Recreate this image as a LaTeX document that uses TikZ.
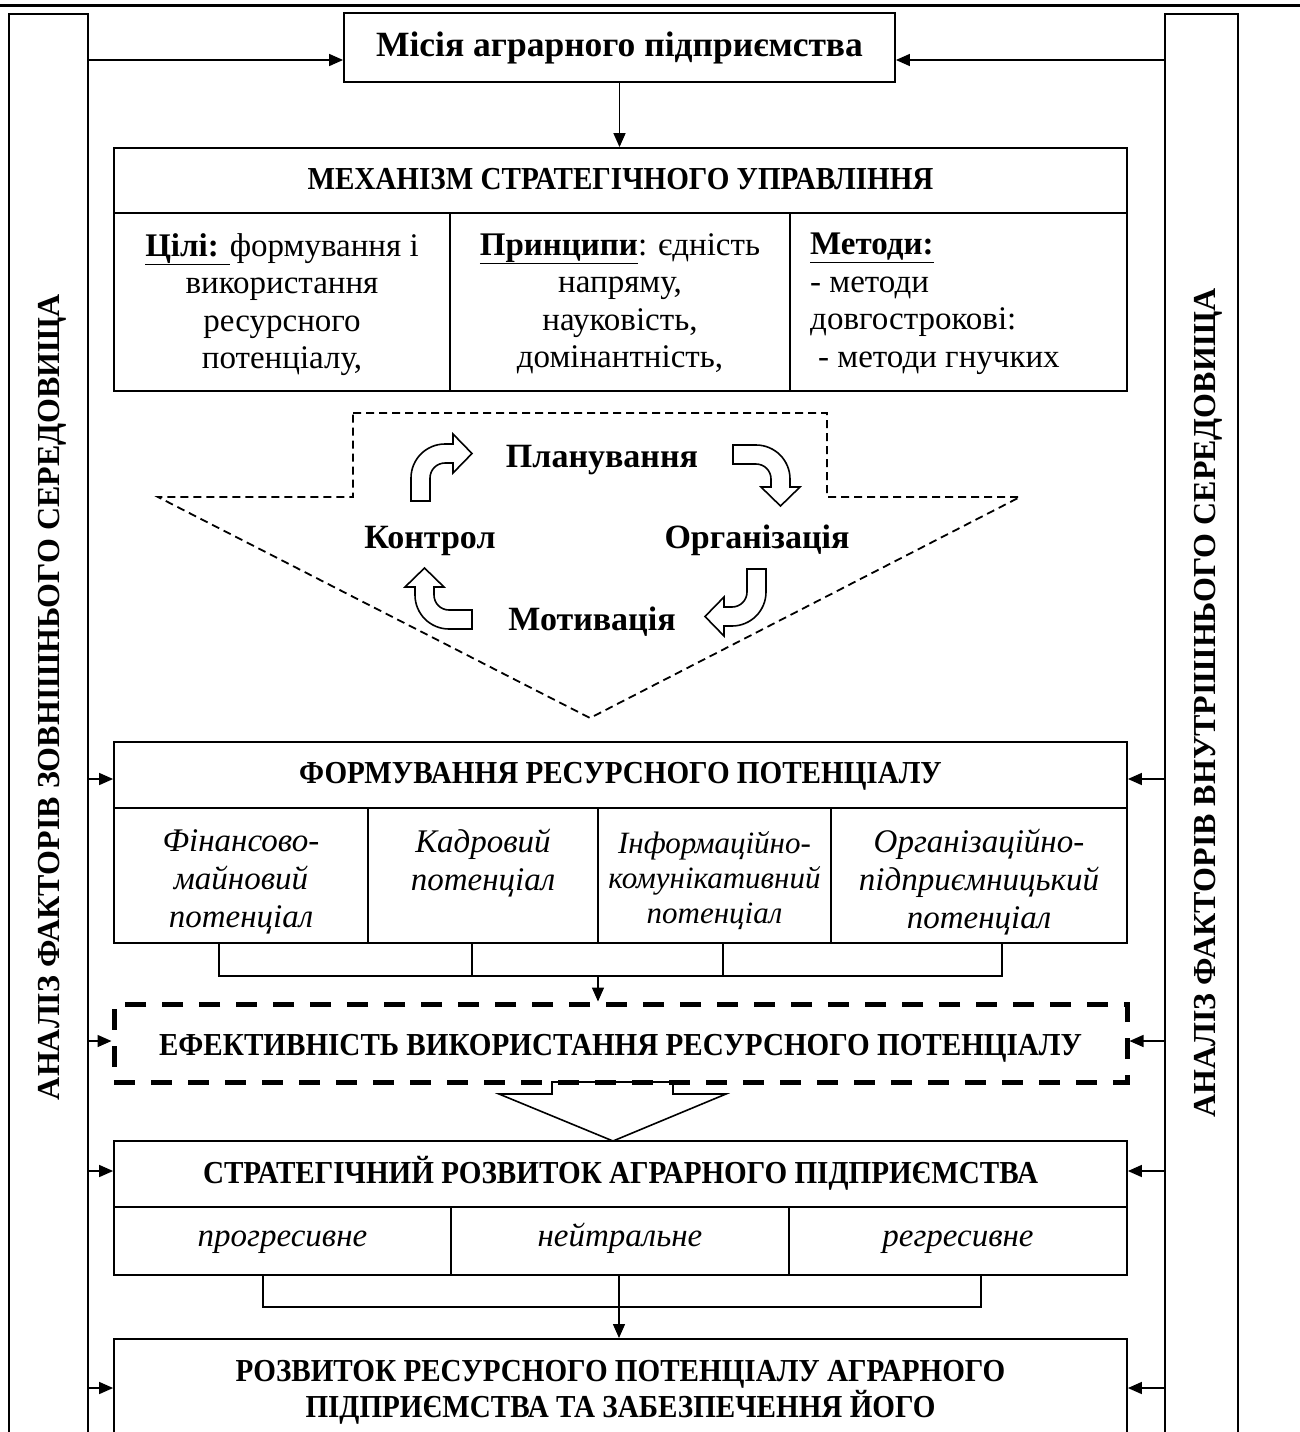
\documentclass[tikz,border=0pt]{standalone}
\usepackage{fontspec}
\setmainfont{Liberation Serif}
\newfontfamily\capsfont{Liberation Serif}[FakeStretch=0.91]
\usetikzlibrary{arrows.meta,calc}
\tikzset{
  boxst/.style={draw, line width=1.8pt, inner sep=0pt, rectangle},
  panelst/.style={draw, line width=1.6pt, inner sep=0pt, rectangle},
  divst/.style={line width=1.6pt},
  conn/.style={line width=1.5pt},
  arr/.style={line width=1.5pt, -{Triangle[length=14pt,width=12pt]}},
  hdrst/.style={font=\capsfont\bfseries\fontsize{32}{36}\selectfont, inner sep=0pt},
  sidest/.style={font=\bfseries\fontsize{32}{36}\selectfont, inner sep=0pt},
  bodyst/.style={font=\fontsize{33}{37.5}\selectfont, inner sep=0pt},
  itst/.style={font=\itshape\fontsize{33}{38}\selectfont, inner sep=0pt, align=center, anchor=north},
  lblst/.style={font=\bfseries\fontsize{34}{38}\selectfont, inner sep=0pt, anchor=base},
  thindash/.style={line width=1.8pt, dash pattern=on 8pt off 5pt},
  thickdash/.style={draw, line width=5pt, dash pattern=on 21pt off 16pt, inner sep=0pt, rectangle},
  blockarr/.style={line width=1.6pt, fill=white, line join=miter},
  pics/bentarrow/.style={code={
    \draw[blockarr] (-34,23) -- (-34,0) .. controls (-34,-18.78) and (-18.78,-34) .. (0,-34)
      -- (8,-34) -- (8,-44) -- (27,-24.5) -- (8,-5) -- (8,-15) -- (0,-15)
      .. controls (-8.28,-15) and (-15,-8.28) .. (-15,0) -- (-15,23) -- cycle;
  }},
}
\begin{document}
\begin{tikzpicture}[x=1pt,y=-1pt]
\path[use as bounding box, fill=white] (0,0) rectangle (1300,1432);
\clip (0,0) rectangle (1300,1432);

% top rule
\draw[line width=3pt] (0,5) -- (1300,5);

% side panels
\node[panelst, minimum width=79pt, minimum height=1500pt, anchor=north west] (lpanel) at (8,13) {};
\node[panelst, minimum width=73pt, minimum height=1500pt, anchor=north west] (rpanel) at (1164,13) {};
\node[sidest, rotate=90, anchor=base] (lside) at (59,697) {АНАЛІЗ ФАКТОРІВ ЗОВНІШНЬОГО СЕРЕДОВИЩА};
\node[sidest, rotate=90, anchor=base] (rside) at (1215,703) {АНАЛІЗ ФАКТОРІВ ВНУТРІШНЬОГО СЕРЕДОВИЩА};

% mission
\node[boxst, minimum width=551pt, minimum height=69pt, font=\bfseries\fontsize{35.5}{40}\selectfont] (mis) at (619.5,47.5) {Місія аграрного підприємства};
\coordinate (misL) at ($(mis.west)+(0,12.5)$);
\coordinate (misR) at ($(mis.east)+(0,12.5)$);
\draw[arr] (lpanel.east |- misL) -- (misL);
\draw[arr] (rpanel.west |- misR) -- (misR);

% mechanism
\node[boxst, minimum width=1013pt, minimum height=243pt] (mech) at (620.5,269.5) {};
\draw[arr] (mis.south) -- (mis.south |- mech.north);
\draw[divst] (114,213) -- (1127,213);
\draw[divst] (450,213) -- (450,391);
\draw[divst] (790,213) -- (790,391);
\node[hdrst, anchor=base] (mecht) at (620.5,189) {МЕХАНІЗМ СТРАТЕГІЧНОГО УПРАВЛІННЯ};
\node[bodyst, align=center, anchor=north] (goals) at (282,233) {\underline{\textbf{Цілі: }}формування і\\використання\\ресурсного\\потенціалу,};
\node[bodyst, align=center, anchor=north] (princ) at (620,233) {\underline{\textbf{Принципи}}: єдність\\напряму,\\науковість,\\домінантність,};
\node[bodyst, align=left, anchor=north west] (meth) at (810,233) {\underline{\textbf{Методи:}}\\- методи\\довгострокові:\\\hspace*{8pt}- методи гнучких};

% dashed management-cycle arrow
\draw[thindash] (353,413) -- (827,413) -- (827,497) -- (1020,497) -- (590,718) -- (158,497) -- (353,497) -- cycle;
\node[lblst] (plan) at (602,467) {Планування};
\node[lblst] (ctrl) at (430,548) {Контрол};
\node[lblst] (orgn) at (757,548) {Організація};
\node[lblst] (motiv) at (592,630) {Мотивація};
\pic at (445,478) {bentarrow};
\pic[rotate=-90] at (756,479) {bentarrow};
\pic[rotate=180] at (732,592) {bentarrow};
\pic[rotate=90] at (449,595) {bentarrow};

% formation
\node[boxst, minimum width=1013pt, minimum height=201pt] (form) at (620.5,842.5) {};
\draw[divst] (114,808) -- (1127,808);
\draw[divst] (368,808) -- (368,943);
\draw[divst] (598,808) -- (598,943);
\draw[divst] (831,808) -- (831,943);
\node[hdrst, anchor=base] (formt) at (620.5,783) {ФОРМУВАННЯ РЕСУРСНОГО ПОТЕНЦІАЛУ};
\node[itst] (fin) at (241,829) {Фінансово-\\майновий\\потенціал};
\node[itst] (kadr) at (483,829) {Кадровий\\потенціал};
\node[itst, font=\itshape\fontsize{31}{35}\selectfont] (infc) at (714.5,831) {Інформаційно-\\комунікативний\\потенціал};
\node[itst] (orgp) at (979,829) {Організаційно-\\підприємницький\\потенціал};

\coordinate (b1) at (219,976);
\coordinate (b2) at (472,976);
\coordinate (b3) at (723,976);
\coordinate (b4) at (1002,976);
\coordinate (bm) at (598,976);
\draw[conn] (form.south -| b1) -- (b1) -- (b4) -- (form.south -| b4);
\draw[conn] (form.south -| b2) -- (b2);
\draw[conn] (form.south -| b3) -- (b3);

% efficiency
\draw[blockarr] (552,1082) -- (552,1094) -- (499,1094) -- (613,1141) -- (726,1094) -- (673,1094) -- (673,1082) -- cycle;
\node[thickdash, minimum width=1013pt, minimum height=78pt] (eff) at (620.5,1043) {};
\draw[arr] (bm) -- (bm |- eff.north);
\node[hdrst, anchor=base] (efft) at (620.5,1055) {ЕФЕКТИВНІСТЬ ВИКОРИСТАННЯ РЕСУРСНОГО ПОТЕНЦІАЛУ};

% strategic development
\node[boxst, minimum width=1013pt, minimum height=134pt] (strat) at (620.5,1208) {};
\draw[divst] (114,1207) -- (1127,1207);
\draw[divst] (451,1207) -- (451,1275);
\draw[divst] (789,1207) -- (789,1275);
\node[hdrst, anchor=base] (stratt) at (620.5,1183) {СТРАТЕГІЧНИЙ РОЗВИТОК АГРАРНОГО ПІДПРИЄМСТВА};
\node[itst, anchor=base] (progr) at (282.5,1246) {прогресивне};
\node[itst, anchor=base] (neut) at (620,1246) {нейтральне};
\node[itst, anchor=base] (regr) at (958,1246) {регресивне};

% development of potential
\node[boxst, minimum width=1013pt, minimum height=200pt, anchor=north] (rozv) at (620.5,1338) {};
\node[hdrst, align=center, anchor=north, font=\capsfont\bfseries\fontsize{32}{36}\selectfont] (rozvt) at (620.5,1360) {РОЗВИТОК РЕСУРСНОГО ПОТЕНЦІАЛУ АГРАРНОГО\\ПІДПРИЄМСТВА ТА ЗАБЕЗПЕЧЕННЯ ЙОГО};

\coordinate (s1) at (263,1307);
\coordinate (s2) at (619,1307);
\coordinate (s3) at (981,1307);
\draw[conn] (strat.south -| s1) -- (s1) -- (s3) -- (strat.south -| s3);
\draw[arr] (strat.south -| s2) -- (s2 |- rozv.north);

% side arrows
\coordinate (y1) at (0,779);
\coordinate (y2) at (0,1041);
\coordinate (y3) at (0,1171);
\coordinate (y4) at (0,1388);
\draw[arr] (lpanel.east |- y1) -- (form.west |- y1);
\draw[arr] (rpanel.west |- y1) -- (form.east |- y1);
\draw[arr] (lpanel.east |- y2) -- (eff.west |- y2);
\draw[arr] (rpanel.west |- y2) -- (eff.east |- y2);
\draw[arr] (lpanel.east |- y3) -- (strat.west |- y3);
\draw[arr] (rpanel.west |- y3) -- (strat.east |- y3);
\draw[arr] (lpanel.east |- y4) -- (rozv.west |- y4);
\draw[arr] (rpanel.west |- y4) -- (rozv.east |- y4);
\end{tikzpicture}
\end{document}
